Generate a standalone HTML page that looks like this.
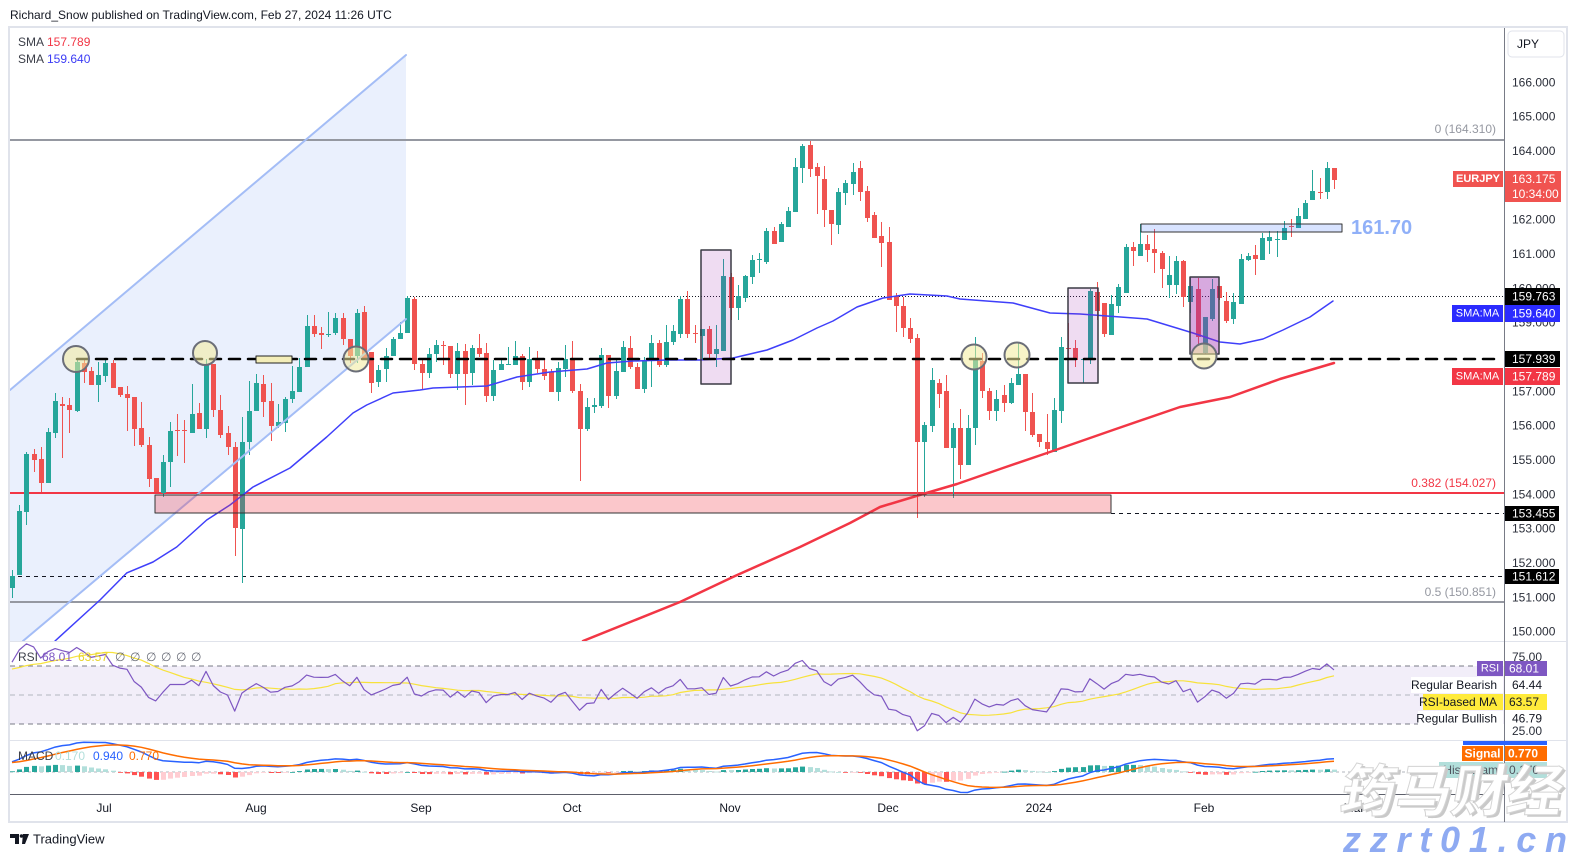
<!DOCTYPE html>
<html><head><meta charset="utf-8">
<style>
html,body{margin:0;padding:0;background:#fff;width:1578px;height:857px;overflow:hidden}
svg{display:block;font-family:"Liberation Sans",sans-serif}
.c{dominant-baseline:central}
</style></head><body>
<svg width="1578" height="857" viewBox="0 0 1578 857" xmlns="http://www.w3.org/2000/svg">
<defs>
<clipPath id="cp"><rect x="10" y="28" width="1494" height="613"/></clipPath>
<clipPath id="cr"><rect x="10" y="642" width="1494" height="98"/></clipPath>
<clipPath id="cm"><rect x="10" y="741" width="1494" height="53"/></clipPath>
</defs>
<rect width="1578" height="857" fill="#fff"/>
<text x="10" y="15" class="c" font-size="12" fill="#131722">Richard_Snow published on TradingView.com, Feb 27, 2024 11:26 UTC</text>
<rect x="9" y="27" width="1558" height="795" fill="none" stroke="#e0e3eb" stroke-width="2"/>

<!-- price pane background drawings -->
<g clip-path="url(#cp)">
<polygon points="10,390 406,55 406,319 23,641 10,641" fill="#eaf0fd"/>
<line x1="10" y1="140" x2="1504" y2="140" stroke="#9598a1" stroke-width="2"/>
<line x1="10" y1="602" x2="1504" y2="602" stroke="#9598a1" stroke-width="2"/>
<line x1="10" y1="493" x2="1504" y2="493" stroke="#f23645" stroke-width="2"/>
<line x1="407" y1="296.5" x2="1504" y2="296.5" stroke="#131722" stroke-width="1" stroke-dasharray="1,2"/>
<line x1="1111" y1="513.5" x2="1504" y2="513.5" stroke="#131722" stroke-width="1" stroke-dasharray="4,4"/>
<line x1="10" y1="576.5" x2="1504" y2="576.5" stroke="#131722" stroke-width="1" stroke-dasharray="4,4"/>
</g>
<g id="cd" clip-path="url(#cp)"></g>
<g clip-path="url(#cp)" fill="none" stroke-linejoin="round" stroke-linecap="round">
<polyline points="55,641 100,600 126.7,573 153,562 176.7,547 206.7,520 230,505 253,487 290,468 326.7,437 353,413 366.7,405 393,393 420,390 433,388 487,386 517,377 550,372 587,369 607,363 633,361 667,360 700,360 733,358 767,350 793,340 817,328 833,321 857,307 883,298 910,294 947,296 960,299 1013,303 1050,313 1080,314 1147,319 1193,333 1220,342 1240,344 1263,339 1283,330 1310,317 1333,301" stroke="#3f3ffa" stroke-width="1.5"/>
<polyline points="583,641 680,602 735,576 800,547 850,523 880,507 923,494 957,484 1003,468 1047,453 1113,430 1180,407 1230,397 1280,379 1334,363" stroke="#f23645" stroke-width="2.5"/>
<line x1="10" y1="390" x2="406" y2="55" stroke="#a4bdf6" stroke-width="2"/>
<line x1="23" y1="641" x2="406" y2="319" stroke="#a4bdf6" stroke-width="2"/>
<rect x="155" y="495" width="956" height="18" fill="#f23645" fill-opacity="0.28" stroke="#333" stroke-width="1"/>
<rect x="701" y="250" width="30" height="134" fill="#9c27b0" fill-opacity="0.16" stroke="#3a3a44" stroke-width="1.5"/>
<rect x="1068" y="288" width="30" height="95" fill="#9c27b0" fill-opacity="0.16" stroke="#3a3a44" stroke-width="1.5"/>
<rect x="1190" y="277" width="29" height="77" fill="#9c27b0" fill-opacity="0.4" stroke="#3a3a44" stroke-width="1.5"/>
<rect x="1141" y="224" width="201" height="8" fill="#2962ff" fill-opacity="0.18" stroke="#333" stroke-width="1"/>
<line x1="77" y1="359" x2="1496" y2="359" stroke="#000" stroke-width="2.5" stroke-dasharray="11,8"/>
<rect x="256" y="356" width="36" height="7" fill="#f3edb8" stroke="#222" stroke-width="1"/>
<g fill="#f3eb9a" fill-opacity="0.55" stroke="#6b6e78" stroke-width="2">
<circle cx="76" cy="359" r="13"/>
<circle cx="205" cy="353" r="12"/>
<circle cx="356" cy="359" r="12.5"/>
<circle cx="974" cy="357" r="12.5"/>
<circle cx="1017" cy="355" r="12.5"/>
<circle cx="1204" cy="356" r="12.5"/>
</g>
</g>
<text x="1351" y="228" class="c" font-size="20" font-weight="bold" fill="#90b0f8">161.70</text>
<text x="1496" y="129" class="c" font-size="12" fill="#9598a1" text-anchor="end">0 (164.310)</text>
<text x="1496" y="483" class="c" font-size="12" fill="#f23645" text-anchor="end">0.382 (154.027)</text>
<text x="1496" y="592" class="c" font-size="12" fill="#9598a1" text-anchor="end">0.5 (150.851)</text>

<!-- legend -->
<text x="18" y="42" class="c" font-size="12" fill="#3b3e48">SMA</text>
<text x="47" y="42" class="c" font-size="12" fill="#f23645">157.789</text>
<text x="18" y="59" class="c" font-size="12" fill="#3b3e48">SMA</text>
<text x="47" y="59" class="c" font-size="12" fill="#3c3cf5">159.640</text>

<!-- pane separators and axes -->
<line x1="10" y1="641.5" x2="1566" y2="641.5" stroke="#e0e3eb"/>
<line x1="10" y1="740.5" x2="1566" y2="740.5" stroke="#e0e3eb"/>
<line x1="10" y1="794.5" x2="1504" y2="794.5" stroke="#5d606b"/>
<line x1="1504.5" y1="28" x2="1504.5" y2="822" stroke="#787b86"/>

<!-- RSI pane -->
<rect x="10" y="666" width="1494" height="58" fill="#7e57c2" fill-opacity="0.1"/>
<line x1="10" y1="666" x2="1504" y2="666" stroke="#787b86" stroke-dasharray="5,4"/>
<line x1="10" y1="695" x2="1504" y2="695" stroke="#b2b5be" stroke-dasharray="5,4"/>
<line x1="10" y1="724" x2="1504" y2="724" stroke="#787b86" stroke-dasharray="5,4"/>
<g id="rs" clip-path="url(#cr)"></g>
<text x="18" y="657" class="c" font-size="12" fill="#3b3e48">RSI</text>
<text x="42" y="657" class="c" font-size="12" fill="#7e57c2">68.01</text>
<text x="78" y="657" class="c" font-size="12" fill="#e8d42a">63.57</text>
<text y="657" class="c" font-size="12" fill="#6a6d78"><tspan x="115">∅</tspan><tspan x="130">∅</tspan><tspan x="146">∅</tspan><tspan x="161">∅</tspan><tspan x="176">∅</tspan><tspan x="191">∅</tspan></text>

<!-- MACD pane -->
<line x1="10" y1="772" x2="1504" y2="772" stroke="#b2b5be" stroke-dasharray="3,3"/>
<g id="mc" clip-path="url(#cm)"></g>
<text x="18" y="756" class="c" font-size="12" fill="#3b3e48">MACD</text>
<text x="55" y="756" class="c" font-size="12" fill="#b2dfdb">0.170</text>
<text x="93" y="756" class="c" font-size="12" fill="#2962ff">0.940</text>
<text x="129" y="756" class="c" font-size="12" fill="#ff6d00">0.770</text>

<!-- time axis -->
<g font-size="12" fill="#131722" text-anchor="middle">
<text x="104" y="808" class="c">Jul</text>
<text x="256" y="808" class="c">Aug</text>
<text x="421" y="808" class="c">Sep</text>
<text x="572" y="808" class="c">Oct</text>
<text x="730" y="808" class="c">Nov</text>
<text x="888" y="808" class="c">Dec</text>
<text x="1039" y="808" class="c">2024</text>
<text x="1204" y="808" class="c">Feb</text>
<text x="1354" y="808" class="c">Mar</text>
</g>

<!-- right price axis -->
<rect x="1508" y="31" width="56" height="26" rx="4" fill="#fff" stroke="#e0e3eb"/>
<text x="1517" y="44" class="c" font-size="12" fill="#131722">JPY</text>
<g font-size="12" fill="#2a2e39">
<text x="1512" y="82.3" class="c">166.000</text>
<text x="1512" y="116.6" class="c">165.000</text>
<text x="1512" y="151" class="c">164.000</text>
<text x="1512" y="185.3" class="c">163.000</text>
<text x="1512" y="219.7" class="c">162.000</text>
<text x="1512" y="254" class="c">161.000</text>
<text x="1512" y="288.3" class="c">160.000</text>
<text x="1512" y="322.7" class="c">159.000</text>
<text x="1512" y="357" class="c">158.000</text>
<text x="1512" y="391.4" class="c">157.000</text>
<text x="1512" y="425.7" class="c">156.000</text>
<text x="1512" y="460" class="c">155.000</text>
<text x="1512" y="494.4" class="c">154.000</text>
<text x="1512" y="528.7" class="c">153.000</text>
<text x="1512" y="563" class="c">152.000</text>
<text x="1512" y="597.4" class="c">151.000</text>
<text x="1512" y="631.7" class="c">150.000</text>
</g>
<rect x="1453" y="171" width="50" height="16" fill="#f05350"/>
<text x="1478" y="179" class="c" font-size="11" font-weight="bold" fill="#fff" text-anchor="middle">EURJPY</text>
<rect x="1505" y="171" width="56" height="31" fill="#f05350"/>
<text x="1512" y="179" class="c" font-size="12" fill="#fff">163.175</text>
<text x="1512" y="194" class="c" font-size="12" fill="#fff">10:34:00</text>
<rect x="1505" y="288" width="55" height="17" fill="#000"/>
<text x="1512" y="296.5" class="c" font-size="12" fill="#fff">159.763</text>
<rect x="1452" y="305" width="51" height="17" fill="#2b2bff"/>
<text x="1477.5" y="313.5" class="c" font-size="11" fill="#fff" text-anchor="middle">SMA:MA</text>
<rect x="1505" y="305" width="55" height="17" fill="#2b2bff"/>
<text x="1512" y="313.5" class="c" font-size="12" fill="#fff">159.640</text>
<rect x="1505" y="351" width="55" height="16" fill="#000"/>
<text x="1512" y="359" class="c" font-size="12" fill="#fff">157.939</text>
<rect x="1452" y="368" width="51" height="17" fill="#f23645"/>
<text x="1477.5" y="376.5" class="c" font-size="11" fill="#fff" text-anchor="middle">SMA:MA</text>
<rect x="1505" y="368" width="55" height="17" fill="#f23645"/>
<text x="1512" y="376.5" class="c" font-size="12" fill="#fff">157.789</text>
<rect x="1505" y="506" width="54" height="15" fill="#000"/>
<text x="1512" y="513.5" class="c" font-size="12" fill="#fff">153.455</text>
<rect x="1505" y="569" width="54" height="15" fill="#000"/>
<text x="1512" y="576.5" class="c" font-size="12" fill="#fff">151.612</text>

<!-- RSI axis -->
<text x="1512" y="657" class="c" font-size="12" fill="#2a2e39">75.00</text>
<text x="1512" y="731" class="c" font-size="12" fill="#2a2e39">25.00</text>
<rect x="1477" y="661" width="26" height="15" fill="#7e57c2"/>
<text x="1490" y="668.5" class="c" font-size="11" fill="#fff" text-anchor="middle">RSI</text>
<rect x="1505" y="661" width="42" height="15" fill="#7e57c2"/>
<text x="1509" y="668.5" class="c" font-size="12" fill="#fff">68.01</text>
<rect x="1411" y="677" width="92" height="16" fill="#fff"/>
<text x="1497" y="685" class="c" font-size="12" fill="#131722" text-anchor="end">Regular Bearish</text>
<text x="1512" y="685" class="c" font-size="12" fill="#131722">64.44</text>
<rect x="1423" y="694" width="80" height="16" fill="#ffeb3b"/>
<text x="1497" y="702" class="c" font-size="12" fill="#131722" text-anchor="end">RSI-based MA</text>
<rect x="1505" y="694" width="42" height="16" fill="#ffeb3b"/>
<text x="1509" y="702" class="c" font-size="12" fill="#131722">63.57</text>
<rect x="1418" y="711" width="85" height="15" fill="#fff"/>
<text x="1497" y="718.5" class="c" font-size="12" fill="#131722" text-anchor="end">Regular Bullish</text>
<rect x="1505" y="711" width="42" height="14" fill="#fff"/>
<text x="1512" y="718.5" class="c" font-size="12" fill="#131722">46.79</text>

<!-- MACD axis -->
<rect x="1463" y="741" width="84" height="4" fill="#2962ff"/>
<rect x="1462" y="746" width="41" height="15" fill="#ff6d00"/>
<text x="1482.5" y="753.5" class="c" font-size="12" font-weight="bold" fill="#fff" text-anchor="middle">Signal</text>
<rect x="1505" y="746" width="42" height="15" fill="#ff6d00"/>
<text x="1508" y="753.5" class="c" font-size="12" font-weight="bold" fill="#fff">0.770</text>
<rect x="1439" y="762" width="64" height="16" fill="#b2dfdb"/>
<text x="1498" y="770" class="c" font-size="12" fill="#50535e" text-anchor="end">Histogram</text>
<rect x="1505" y="762" width="42" height="16" fill="#b2dfdb"/>
<text x="1509" y="770" class="c" font-size="12" fill="#50535e">0.170</text>

<!-- TradingView logo -->
<path d="M10 834 h9 v10 h-4 v-6 h-5 z" fill="#131722"/>
<circle cx="21.5" cy="836" r="1.8" fill="#131722"/>
<path d="M23 834 h6 l-4 10 h-3 z" fill="#131722"/>
<text x="33" y="839" class="c" font-size="13" fill="#131722">TradingView</text>

<!-- watermarks -->
<g transform="translate(1338,811) skewX(-10)">
<text x="3" y="2" font-size="56" font-weight="bold" fill="#c9c9c9" textLength="222" lengthAdjust="spacingAndGlyphs" style="font-family:'Liberation Sans','Noto Sans CJK SC',sans-serif">筠马财经</text>
<text x="0" y="0" font-size="56" font-weight="bold" fill="#ffffff" stroke="#d4d4d4" stroke-width="1" textLength="222" lengthAdjust="spacingAndGlyphs" style="font-family:'Liberation Sans','Noto Sans CJK SC',sans-serif">筠马财经</text>
</g>
<text x="1343" y="852" font-size="36" font-weight="bold" font-style="italic" fill="#8eaaf2" textLength="224" lengthAdjust="spacing">zzrt01.cn</text>
</svg>

<script>
const D=[
[588,570,598,576],[575,505,575,511],[512,452,525,454],[454,449,472,460],[459,447,492,483],
[483,428,483,432],[433,393,438,401],[404,397,458,406],[405,398,433,410],[411,358,412,362],
[363,358,383,372],[371,367,385,385],[385,362,402,375],[376,359,382,363],[363,360,388,388],
[387,387,397,395],[394,386,431,398],[397,397,446,429],[428,402,447,445],[445,437,487,479],
[478,478,492,492],[493,455,497,462],[462,422,487,431],[430,414,456,431],[430,420,463,431],
[433,384,433,414],[413,403,429,429],[429,359,438,364],[364,364,417,410],[410,395,438,435],
[433,426,455,447],[447,442,556,528],[529,417,583,442],[442,381,455,411],[411,374,411,383],
[384,375,417,402],[401,383,441,426],[426,404,428,422],[423,397,432,399],[399,366,403,391],
[392,358,392,367],[367,315,367,326],[326,315,337,334],[333,327,349,335],[335,312,337,334],
[333,313,335,318],[318,313,345,339],[339,339,363,356],[356,309,363,313],[312,306,360,360],
[352,352,393,383],[382,365,387,370],[369,348,382,356],[356,337,356,339],[339,322,339,333],
[333,296,333,298],[299,297,370,364],[364,358,389,373],[373,348,378,354],[354,340,362,345],
[345,341,365,346],[346,346,378,374],[374,343,390,351],[351,344,405,374],[373,345,385,348],
[348,334,357,354],[353,343,402,396],[396,360,401,370],[370,360,370,364],[365,347,365,364],
[365,341,365,356],[356,354,390,382],[382,347,387,359],[358,351,373,369],[369,360,380,376],
[372,369,392,392],[392,362,401,368],[369,345,377,359],[360,341,393,391],[391,384,481,429],
[429,398,431,407],[407,398,413,405],[406,348,408,355],[355,355,408,396],[396,358,399,371],
[372,341,372,347],[348,336,369,367],[367,363,389,389],[389,357,393,361],[361,335,387,343],
[343,340,367,365],[365,325,367,342],[342,325,345,331],[334,296,338,299],[299,291,338,334],
[333,325,343,334],[336,329,360,329],[329,326,360,354],[354,325,367,349],[351,259,351,276],
[277,273,320,308],[308,285,320,296],[298,275,302,276],[277,255,284,260],[260,253,273,259],
[262,228,264,231],[231,227,244,244],[242,222,242,224],[227,207,227,211],[212,158,212,167],
[168,144,183,146],[145,141,177,169],[167,163,214,176],[179,166,227,210],[210,210,245,224],
[225,188,234,192],[193,180,205,183],[184,163,195,172],[168,161,201,192],[191,186,222,218],
[215,212,238,238],[236,222,267,243],[242,227,300,300],[296,293,332,306],[306,297,337,328],
[328,318,343,339],[338,334,518,442],[442,422,497,425],[426,368,432,380],[383,379,408,394],
[391,375,448,448],[448,423,498,428],[428,409,479,465],[465,415,465,428],[428,337,445,360],
[361,353,398,391],[391,388,420,411],[411,390,421,399],[395,385,412,403],[403,378,404,383],
[385,342,385,374],[374,374,431,412],[412,393,437,435],[434,434,447,442],[442,414,455,449],
[452,398,452,410],[411,337,423,347],[348,323,360,349],[348,340,367,360],[360,360,383,359],
[360,289,364,291],[292,282,320,311],[303,303,337,334],[335,295,335,304],[306,284,313,287],
[293,244,293,247],[247,242,266,251],[256,224,256,244],[244,235,262,250],[249,229,273,253],
[253,251,288,269],[285,256,298,275],[285,256,294,261],[261,260,307,297],[302,277,313,286],
[289,278,345,337],[353,317,354,317],[319,279,321,289],[286,286,300,298],[301,292,323,321],
[319,293,324,302],[304,254,304,259],[260,253,261,256],[255,245,275,259],[260,233,260,238],
[241,231,254,237],[240,231,257,239],[240,221,240,228],[226,219,237,227],[228,208,228,216],
[219,200,219,203],[200,170,200,191],[192,178,199,193],[192,162,199,168],[168,168,189,180]
];
const X0=12,DX=7.185;
let cs='';
D.forEach((d,i)=>{let [o,h,l,c]=d;h=Math.min(h,o,c);l=Math.max(l,o,c);
 const x=Math.round(X0+i*DX)+0.5;const col=(c<=o)?'#26a69a':'#ef5350';
 const top=Math.min(o,c),bh=Math.max(1,Math.abs(o-c));
 cs+='<line x1="'+x+'" y1="'+h+'" x2="'+x+'" y2="'+l+'" stroke="'+col+'" stroke-width="1"/>'+
 '<rect x="'+(x-2.5)+'" y="'+top+'" width="5" height="'+bh+'" fill="'+col+'"/>';});
document.getElementById('cd').innerHTML=cs;

const P=y=>166-(y-82.3)/34.34;
const cl=[];for(let k=0;k<45;k++)cl.push(146.3+k*0.105+0.3*Math.sin(k*1.7));
const W=cl.length;D.forEach(d=>cl.push(P(d[3])));
const L=cl.length;
const rsi=new Array(L).fill(50);let ag=0,al=0;
for(let i=1;i<L;i++){const ch=cl[i]-cl[i-1],g=Math.max(ch,0),lo=Math.max(-ch,0);
 if(i<=14){ag+=g/14;al+=lo/14;}else{ag=(ag*13+g)/14;al=(al*13+lo)/14;}
 rsi[i]=al===0?100:100-100/(1+ag/al);}
const rma=rsi.map((v,i)=>{if(i<14)return v;let s=0;for(let k=i-13;k<=i;k++)s+=rsi[k];return s/14;});
function ema(a,n){const q=2/(n+1);const o=[];let e=a[0];a.forEach((v,i)=>{e=i?q*v+(1-q)*e:v;o.push(e);});return o;}
const e12=ema(cl,12),e26=ema(cl,26);const mac=e12.map((v,i)=>v-e26[i]);const sig=ema(mac,9);
let p1='',p2='';
for(let i=0;i<D.length;i++){const x=(X0+i*DX).toFixed(1);
 p1+=x+','+(695-(rsi[W+i]-50)*1.45).toFixed(1)+' ';
 p2+=x+','+(695-(rma[W+i]-50)*1.45).toFixed(1)+' ';}
document.getElementById('rs').innerHTML='<polyline points="'+p2+'" fill="none" stroke="#f7e23c" stroke-width="1.2"/>'+
 '<polyline points="'+p1+'" fill="none" stroke="#7e57c2" stroke-width="1.2" stroke-linejoin="round"/>';
const KM=14,Z=772;let hs='',m1='',m2='';
for(let i=0;i<D.length;i++){const j=W+i;const h=mac[j]-sig[j],hp=mac[j-1]-sig[j-1];
 const col=h>=0?(h>hp?'#26a69a':'#b2dfdb'):(h<hp?'#ff5252':'#ffcdd2');
 const xc=Math.round(X0+i*DX)+0.5;const yh=Z-h*KM;
 hs+='<rect x="'+(xc-2.5)+'" y="'+Math.min(Z,yh).toFixed(1)+'" width="5" height="'+Math.max(0.8,Math.abs(h*KM)).toFixed(1)+'" fill="'+col+'"/>';
 const x=(X0+i*DX).toFixed(1);
 m1+=x+','+(Z-mac[j]*KM).toFixed(1)+' ';m2+=x+','+(Z-sig[j]*KM).toFixed(1)+' ';}
document.getElementById('mc').innerHTML=hs+'<polyline points="'+m1+'" fill="none" stroke="#2962ff" stroke-width="1.5"/>'+
 '<polyline points="'+m2+'" fill="none" stroke="#ff6d00" stroke-width="1.5"/>';
</script>
</body></html>
